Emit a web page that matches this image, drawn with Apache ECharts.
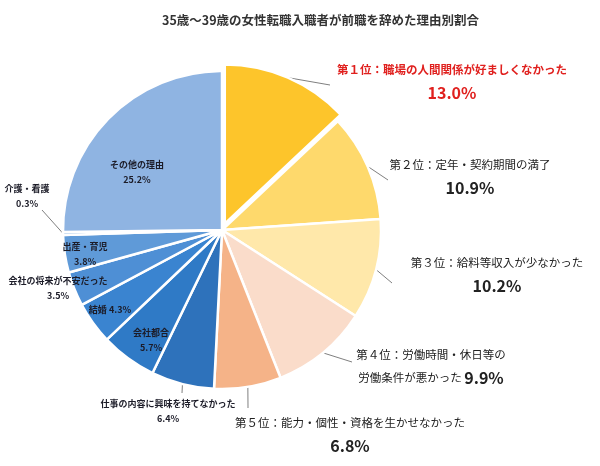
<!DOCTYPE html>
<html><head><meta charset="utf-8">
<script src="https://cdn.jsdelivr.net/npm/echarts@6/dist/echarts.min.js"></script>
<style>html,body{margin:0;padding:0;background:#fff}#c{width:600px;height:466px}</style>
</head><body><div id="c"></div>
<script>
const titleText = '35歳～39歳の女性転職入職者が前職を辞めた理由別割合';
const categories = ['職場の人間関係が好ましくなかった','定年・契約期間の満了','給料等収入が少なかった','労働時間・休日等の労働条件が悪かった','能力・個性・資格を生かせなかった','仕事の内容に興味を持てなかった','会社都合','結婚','会社の将来が不安だった','出産・育児','介護・看護','その他の理由'];
const values = [13.0,10.9,10.2,9.9,6.8,6.4,5.7,4.3,3.5,3.8,0.3,25.2];
const rankDigits = ['１','２','３','４','５'];

const colors = ['#FDC52B','#FED96C','#FFE8AA','#FADCCA','#F5B388','#2E72BB','#2F7AC6','#3A84D0','#4E8FD5','#5F9AD8','#76A7DD','#8FB4E2'];
const labelAnchor = [[452,82],[470,177],[497,275],[431,367],[350,435],[168,411],[151,340],[110,310],[58,288],[85,254],[27,196],[137,172]];
const leaderEnd = [[330,85],[388,180],[392,283],[352,362],[248,408],[182,393],null,null,null,null,[42,210],null];
const FONT = '"Noto Sans CJK JP", "Noto Sans", sans-serif';
const CX = 222, CY = 230, R = 159, EXPLODE = 7;

function fmt(p){
  const i = p.dataIndex, v = values[i].toFixed(1) + '%';
  if (i < 5) {
    const head = '第' + rankDigits[i] + '位：';
    const tk = i === 0 ? 'r' : 't', vk = i === 0 ? 'rv' : 'v';
    if (i === 3) {
      const n = categories[i];
      return '{t|' + head + n.slice(0,9) + '}\n{t|' + n.slice(9) + ' }{v|' + v + '}';
    }
    return '{' + tk + '|' + head + categories[i] + '}\n{' + vk + '|' + v + '}';
  }
  if (i === 7) return '{s|' + categories[i] + ' ' + v + '}';
  return '{s|' + categories[i] + '}\n{s|' + v + '}';
}

const total = values.reduce((a, b) => a + b, 0);
const midAng = (values[0] / 2) / total * 2 * Math.PI;
const ecx = CX + EXPLODE * Math.sin(midAng), ecy = CY - EXPLODE * Math.cos(midAng);

const hidden = { color: 'rgba(0,0,0,0)', borderWidth: 0 };
function makeData(showIdx) {
  return values.map((v, i) => {
    const vis = showIdx(i);
    return {
      value: v,
      name: categories[i],
      itemStyle: vis ? { color: colors[i] } : hidden,
      label: { show: vis },
      labelLine: { show: vis && !!leaderEnd[i], lineStyle: { color: '#808080', width: 1 } }
    };
  });
}

const labelOpt = {
  show: true, position: 'outside', formatter: fmt, fontFamily: FONT,
  rich: {
    r: { fontFamily: FONT, fontSize: 11.5, fontWeight: 'bold', color: '#E0201E', lineHeight: 22 },
    rv: { fontFamily: FONT, fontSize: 16, fontWeight: 'bold', color: '#E0201E', lineHeight: 24 },
    t: { fontFamily: FONT, fontSize: 11.5, color: '#222', lineHeight: 22 },
    v: { fontFamily: FONT, fontSize: 16, fontWeight: 'bold', color: '#222', lineHeight: 24 },
    s: { fontFamily: FONT, fontSize: 9, fontWeight: 'bold', color: '#1c1c28', lineHeight: 15 }
  }
};
function layout(p) {
  const i = p.dataIndex, a = labelAnchor[i];
  const res = { x: a[0], y: a[1], align: 'center', verticalAlign: 'middle' };
  if (leaderEnd[i] && p.labelLinePoints) {
    res.labelLinePoints = [p.labelLinePoints[0], leaderEnd[i], leaderEnd[i]];
  }
  return res;
}
const base = {
  type: 'pie', radius: R, startAngle: 90, clockwise: true, avoidLabelOverlap: false,
  selectedMode: false, itemStyle: { borderColor: '#fff', borderWidth: 2.5 },
  emphasis: { disabled: true }, label: labelOpt,
  labelLine: { show: true, length: 10, length2: 10 }, labelLayout: layout
};

const chart = echarts.init(document.getElementById('c'), null, { renderer: 'canvas' });
chart.setOption({
  animation: false,
  backgroundColor: '#fff',
  title: { text: titleText, left: 157, top: 9, textStyle: { fontFamily: FONT, fontSize: 12.5, fontWeight: 'bold', color: '#333' } },
  series: [
    Object.assign({}, base, { center: [CX, CY], data: makeData(i => i !== 0) }),
    Object.assign({}, base, { center: [ecx, ecy], data: makeData(i => i === 0) })
  ]
});
</script></body></html>
